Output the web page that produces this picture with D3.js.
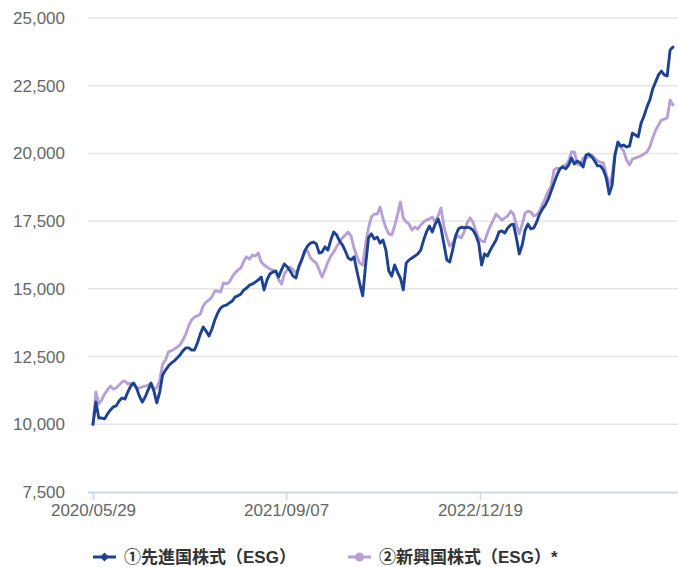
<!DOCTYPE html>
<html>
<head>
<meta charset="utf-8">
<script src="https://cdn.jsdelivr.net/npm/d3@7"></script>
<style>
  body { margin: 0; background: #fff; }
  svg { display: block; font-family: "Liberation Sans", "Noto Sans CJK JP", sans-serif; }
</style>
</head>
<body>
<svg id="chart" width="678" height="567"></svg>
<script>
// weekly closes, index base 10,000 at 2020/05/29
var startDate = "2020/05/29";
var tickDates = ["2020/05/29", "2021/09/07", "2022/12/19"];
var yTicks = [7500, 10000, 12500, 15000, 17500, 20000, 22500, 25000];
var seriesNames = ["①先進国株式（ESG）", "②新興国株式（ESG）*"];

var developed = [
  10000, 10820, 10230, 10230, 10200, 10380, 10530, 10640, 10680, 10860,
  10970, 10930, 11190, 11410, 11520, 11340, 11040, 10820, 11010, 11270,
  11520, 11230, 10790, 11190, 11820, 12000, 12150, 12260, 12340, 12450,
  12560, 12710, 12820, 12820, 12740, 12740, 13000, 13330, 13590, 13440,
  13260, 13520, 13850, 14110, 14290, 14370, 14400, 14480, 14550, 14700,
  14740, 14810, 14960, 15030, 15140, 15180, 15250, 15330, 15440, 14960,
  15330, 15550, 15620, 15660, 15440, 15700, 15920, 15810, 15660, 15470,
  15400, 15840, 16070, 16400, 16580, 16690, 16730, 16660, 16320, 16360,
  16550, 16430, 16800, 17100, 16990, 16770, 16620, 16400, 16140, 16070,
  16180, 15660, 15180, 14740, 15880, 16880, 17030, 16840, 16910, 16690,
  16800, 16430, 15660, 15470, 15880, 15620, 15400, 14960, 15950, 16070,
  16140, 16210, 16290, 16430, 16800, 17100, 17320, 17100, 17390, 17580,
  17250, 16660, 16070, 15990, 16430, 16950, 17210, 17280, 17250, 17280,
  17250, 17170, 16990, 16690, 15880, 16290, 16210, 16430, 16620, 16800,
  17100, 17140, 17060, 17250, 17360, 17390, 16880, 16290, 16620, 17170,
  17390, 17210, 17250, 17470, 17760, 17950, 18100, 18320, 18610, 18910,
  19200, 19430, 19500, 19430, 19570, 19830, 19610, 19720, 19650, 19500,
  19940, 19980, 19870, 19720, 19540, 19540, 19390, 19090, 18500, 18830,
  19940, 20420, 20270, 20310, 20240, 20270, 20750, 20680, 20610, 21120,
  21380, 21710, 21970, 22380, 22640, 22900, 23040, 22900, 22860, 23820,
  23930
];

var emerging = [
  10000, 11190, 10750, 10900, 11120, 11270, 11410, 11300, 11340, 11450,
  11560, 11600, 11490, 11520, 11450, 11340, 11340, 11380, 11410, 11450,
  11490, 11300, 11340, 11630, 12230, 12370, 12670, 12710, 12780, 12850,
  12930, 13110, 13330, 13630, 13850, 13960, 14000, 14070, 14370, 14510,
  14590, 14700, 14920, 14920, 14880, 15220, 15180, 15250, 15440, 15590,
  15700, 15770, 16030, 16180, 16100, 16250, 16210, 16320, 15990, 15880,
  15810, 15730, 15700, 15620, 15330, 15180, 15550, 15700, 15810, 15700,
  15590, 15770, 16100, 16360, 16400, 16140, 16030, 15950, 15700, 15440,
  15700, 15990, 16210, 16360, 16550, 16730, 16880, 16990, 17100, 16950,
  16510, 16180, 15950, 15880, 16660, 17250, 17650, 17760, 17760, 18020,
  17580, 17250, 17030, 16990, 17320, 17730, 18210, 17620, 17470, 17390,
  17170, 17280, 17210, 17360, 17470, 17540, 17580, 17650, 17470, 17690,
  17990, 17320, 16910, 16580, 16690, 16880, 16950, 16880, 17100, 17430,
  17620, 17470, 17140, 16880, 16770, 16730, 17060, 17320, 17540, 17760,
  17650, 17540, 17620, 17690, 17870, 17760, 17360, 17030, 17390, 17800,
  17870, 17830, 17690, 17730, 17870, 18130, 18350, 18610, 18800, 19390,
  19460, 19430, 19540, 19570, 19720, 20050, 20050, 19610, 19570, 19830,
  19830, 19870, 19940, 19830, 19720, 19680, 19650, 19240, 18830, 19200,
  20020, 20310, 20240, 20090, 19760, 19570, 19790, 19830, 19870, 19910,
  19980, 20050, 20240, 20570, 20860, 21050, 21230, 21270, 21310, 21970,
  21790
];

var colors = ["#1c4291", "#b7a0d6"];

var svg = d3.select("#chart");
var parse = d3.timeParse("%Y/%m/%d");
var fmt = d3.timeFormat("%Y/%m/%d");

var start = parse(startDate);
var dates = developed.map(function(d, i) { return d3.timeDay.offset(start, i * 7); });

var x = d3.scaleTime()
  .domain([start, dates[dates.length - 1]])
  .range([93, 673]);

var y = d3.scaleLinear()
  .domain([7500, 25000])
  .range([492, 18]);

// grid lines
svg.append("g")
  .selectAll("line")
  .data(yTicks.slice(1))
  .enter().append("line")
  .attr("x1", 88).attr("x2", 678)
  .attr("y1", function(d) { return y(d); })
  .attr("y2", function(d) { return y(d); })
  .attr("stroke", "#e6e6e6")
  .attr("stroke-width", 1.5);

// y axis labels
var yAxis = svg.append("g")
  .attr("transform", "translate(88,0)")
  .call(d3.axisLeft(y).tickValues(yTicks).tickSize(0).tickPadding(23).tickFormat(d3.format(",")));
yAxis.select(".domain").remove();
yAxis.selectAll("text")
  .attr("fill", "#666")
  .style("font-size", "17px");

// x axis
var xAxis = svg.append("g")
  .attr("transform", "translate(0,492)")
  .call(d3.axisBottom(x).tickValues(tickDates.map(parse)).tickSize(8).tickPadding(4).tickFormat(fmt));
xAxis.select(".domain")
  .attr("d", "M88,0.5H678")
  .attr("stroke", "#ccd6eb")
  .attr("stroke-width", 2);
xAxis.selectAll(".tick line").attr("stroke", "#ccd6eb").attr("stroke-width", 1.5);
xAxis.selectAll("text")
  .attr("fill", "#666")
  .style("font-size", "17px");

var line = d3.line()
  .x(function(d, i) { return x(dates[i]); })
  .y(function(d) { return y(d); });

// emerging first so developed sits on top
[emerging, developed].forEach(function(s, k) {
  svg.append("path")
    .datum(s)
    .attr("fill", "none")
    .attr("stroke", k === 0 ? colors[1] : colors[0])
    .attr("stroke-width", 2.9)
    .attr("stroke-linejoin", "round")
    .attr("stroke-linecap", "round")
    .attr("d", line);
});

// legend
var legend = svg.append("g").attr("transform", "translate(0,557)");
var lx = [93, 348];
seriesNames.forEach(function(name, i) {
  var g = legend.append("g").attr("transform", "translate(" + lx[i] + ",0)");
  g.append("line")
    .attr("x1", 0).attr("x2", 23)
    .attr("stroke", colors[i]).attr("stroke-width", 3);
  if (i === 0) {
    g.append("path")
      .attr("d", d3.symbol().type(d3.symbolDiamond2).size(50)())
      .attr("transform", "translate(11.5,0)")
      .attr("fill", colors[i]);
  } else {
    g.append("circle")
      .attr("cx", 11.5).attr("r", 4.5)
      .attr("fill", colors[i]);
  }
  g.append("text")
    .attr("x", 31).attr("y", 0)
    .attr("dy", "0.35em")
    .attr("fill", "#333")
    .style("font-size", "17px")
    .style("font-weight", "bold")
    .text(name);
});
</script>
</body>
</html>
